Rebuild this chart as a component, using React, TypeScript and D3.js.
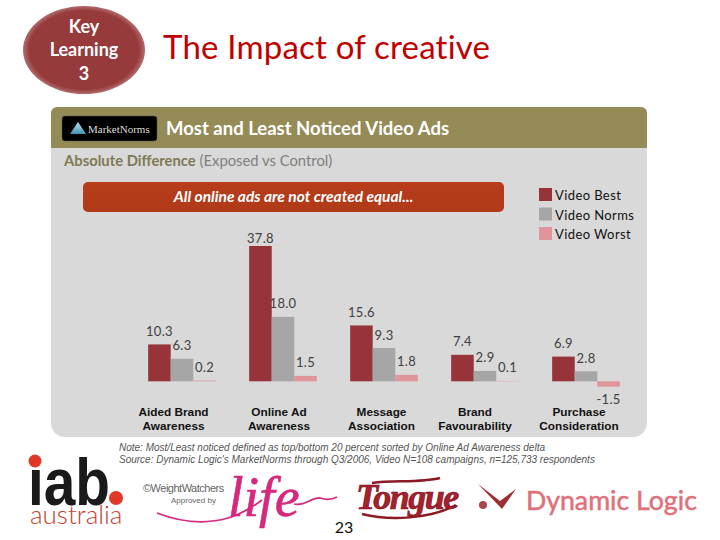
import { useEffect, useRef } from 'react';
import * as d3 from 'd3';

// Chart data
const categories = ['Aided Brand|Awareness', 'Online Ad|Awareness', 'Message|Association', 'Brand|Favourability', 'Purchase|Consideration'];
const seriesNames = ['Video Best', 'Video Norms', 'Video Worst'];
const videoBest = [10.3, 37.8, 15.6, 7.4, 6.9];
const videoNorms = [6.3, 18.0, 9.3, 2.9, 2.8];
const videoWorst = [0.2, 1.5, 1.8, 0.1, -1.5];

const seriesColors = ['#96343a', '#a6a6a6', '#e0959a'];
// category labels on the slide are not centred under their bars
const categoryNudge = [-8.5, -4, -2.5, -10, -7];

const SANS = '"Liberation Sans", Arial, sans-serif';
const HUMAN = 'Lato, "Open Sans", sans-serif';

export default function App() {
    const svgRef = useRef<SVGSVGElement>(null);

    useEffect(() => {
        if (!svgRef.current) return;
        const svg = d3.select(svgRef.current);
        svg.selectAll('.chart').remove();
        const g = svg.append('g').attr('class', 'chart');

        // Scales
        const x0 = d3.scaleBand<number>()
            .domain(d3.range(categories.length))
            .range([131.5, 636.5])
            .paddingInner(0.33)
            .paddingOuter(0.165);
        const x1 = d3.scaleBand<number>()
            .domain(d3.range(seriesNames.length))
            .range([0, x0.bandwidth()]);
        const y = d3.scaleLinear().domain([-5, 40]).range([399.2, 238.1]);

        const series = [videoBest, videoNorms, videoWorst];
        const rows = series.flatMap((values, s) =>
            values.map((v, c) => ({ s, c, v })));

        // Bars
        g.selectAll('.bar')
            .data(rows)
            .enter()
            .append('rect')
            .attr('class', 'bar')
            .attr('x', d => (x0(d.c) || 0) + (x1(d.s) || 0))
            .attr('width', x1.bandwidth())
            .attr('y', d => y(Math.max(d.v, 0)))
            .attr('height', d => Math.abs(y(d.v) - y(0)))
            .attr('fill', d => seriesColors[d.s]);

        // Value labels, the tallest one is kept inside the plot
        g.selectAll('.label')
            .data(rows)
            .enter()
            .append('text')
            .attr('class', 'label')
            .attr('x', d => (x0(d.c) || 0) + (x1(d.s) || 0) + x1.bandwidth() / 2)
            .attr('y', d => d.v < 0 ? y(d.v) + 13 : Math.max(y(d.v) - 13, y(40)))
            .attr('dy', '0.35em')
            .attr('text-anchor', 'middle')
            .attr('fill', '#404040')
            .style('font-family', HUMAN)
            .style('font-size', '13px')
            .style('letter-spacing', '0.3px')
            .text(d => d.v.toFixed(1));

        // Category labels
        const cat = g.selectAll('.cat')
            .data(categories)
            .enter()
            .append('text')
            .attr('class', 'cat')
            .attr('text-anchor', 'middle')
            .attr('fill', '#111')
            .style('font-family', SANS)
            .style('font-size', '11.8px')
            .style('font-weight', 'bold');
        cat.selectAll('tspan')
            .data((d, i) => d.split('|').map(t => ({ t, i })))
            .enter()
            .append('tspan')
            .attr('x', d => (x0(d.i) || 0) + x0.bandwidth() / 2 + categoryNudge[d.i])
            .attr('y', (_d, j) => 416 + j * 14)
            .text(d => d.t);

        // Legend
        const legend = d3.scalePoint<string>().domain(seriesNames).range([194.5, 233.5]);
        g.selectAll('.swatch')
            .data(seriesNames)
            .enter()
            .append('rect')
            .attr('class', 'swatch')
            .attr('x', 539)
            .attr('y', d => (legend(d) || 0) - 6.5)
            .attr('width', 13)
            .attr('height', 13)
            .attr('fill', (_d, i) => seriesColors[i]);
        g.selectAll('.legend-text')
            .data(seriesNames)
            .enter()
            .append('text')
            .attr('class', 'legend-text')
            .attr('x', 555)
            .attr('y', d => (legend(d) || 0) + 1)
            .attr('dy', '0.35em')
            .attr('fill', '#111')
            .style('font-family', HUMAN)
            .style('font-size', '13px')
            .style('letter-spacing', '0.4px')
            .text(d => d);
    }, []);

    return (
        <svg ref={svgRef} width={720} height={540} style={{ position: 'fixed', left: 0, top: 0, background: '#fff' }}>
            <defs>
                <radialGradient id="oval" cx="50%" cy="50%" r="52%">
                    <stop offset="86%" stopColor="#963a3b" />
                    <stop offset="100%" stopColor="#bd8080" />
                </radialGradient>
                <linearGradient id="banner" x1="0" y1="0" x2="0" y2="1">
                    <stop offset="0%" stopColor="#b73c1a" />
                    <stop offset="100%" stopColor="#b03a18" />
                </linearGradient>
                <linearGradient id="mn" x1="0" y1="0" x2="0" y2="1">
                    <stop offset="0%" stopColor="#bfe3ee" />
                    <stop offset="100%" stopColor="#3f93b5" />
                </linearGradient>
            </defs>

            {/* Heading */}
            <ellipse cx={84} cy={50} rx={61} ry={44} fill="url(#oval)" />
            <g fill="#fff" textAnchor="middle" fontFamily={HUMAN} fontSize={18} fontWeight="bold">
                <text x={84} y={33}>Key</text>
                <text x={84} y={56}>Learning</text>
                <text x={84} y={80}>3</text>
            </g>
            <text x={163} y={59} fill="#c00000" fontFamily={HUMAN} fontSize={33} letterSpacing={0.2}>The Impact of creative</text>

            {/* Panel */}
            <path d="M51,113 a6,6 0 0 1 6,-6 H641 a6,6 0 0 1 6,6 V423 a14,14 0 0 1 -14,14 H65 a14,14 0 0 1 -14,-14 Z" fill="#d9d9d9" />
            <path d="M51,148 V113 a6,6 0 0 1 6,-6 H641 a6,6 0 0 1 6,6 V148 Z" fill="#958b56" />
            <rect x={62} y={116} width={95} height={25} rx={3} fill="#000" stroke="#555" strokeWidth={0.5} />
            <path d="M70,134 L78,122 L86,134 Z" fill="url(#mn)" />
            <text x={88} y={133} fill="#ddd" fontFamily='"Liberation Serif", serif' fontSize={11}>MarketNorms</text>
            <text x={166} y={135} fill="#fff" fontFamily={HUMAN} fontSize={18.5} fontWeight="bold">Most and Least Noticed Video Ads</text>
            <text x={64} y={166} fontFamily={HUMAN} fontSize={14.8}>
                <tspan fill="#7f7a55" fontWeight="bold">Absolute Difference</tspan>
                <tspan fill="#7f7f7f"> (Exposed vs Control)</tspan>
            </text>
            <rect x={83} y={182} width={421} height={30} rx={5} fill="url(#banner)" />
            <text x={293.5} y={202} fill="#fff" textAnchor="middle" fontFamily={HUMAN} fontSize={15.5} fontStyle="italic" fontWeight="bold">All online ads are not created equal...</text>

            {/* Footnotes */}
            <g fill="#555" fontFamily={SANS} fontSize={10} fontStyle="italic">
                <text x={119} y={451}>Note: Most/Least noticed defined as top/bottom 20 percent sorted by Online Ad Awareness delta</text>
                <text x={119} y={463}>Source: Dynamic Logic's MarketNorms through Q3/2006, Video N=108 campaigns, n=125,733 respondents</text>
            </g>

            {/* iab australia */}
            <text x={28} y={505} fill="#1a1a1a" fontFamily={SANS} fontSize={66} fontWeight="bold" textLength={82} lengthAdjust="spacingAndGlyphs">iab</text>
            <rect x={27} y={454} width={14} height={11} fill="#fff" />
            <circle cx={35} cy={461} r={6.5} fill="#e03a26" />
            <circle cx={116} cy={498} r={7} fill="#e03a26" />
            <text x={30} y={524} fill="#c23f2e" fontFamily={HUMAN} fontSize={26} fontWeight={300}>australia</text>

            {/* Weight Watchers life */}
            <text x={143} y={492} fill="#666" fontFamily={SANS} fontSize={11} letterSpacing={-0.5}>©WeightWatchers</text>
            <text x={171} y={503} fill="#666" fontFamily={SANS} fontSize={8}>Approved by</text>
            <path d="M157,513 C175,520 200,526 228,518 C245,513 255,505 262,500" fill="none" stroke="#d6287c" strokeWidth={1.8} />
            <text x={228} y={516} fill="#d6287c" stroke="#d6287c" strokeWidth={0.6} fontFamily='"Liberation Serif", serif' fontSize={56} fontStyle="italic">life</text>
            <path d="M294,504 C304,507 312,497 320,498 C326,500 331,500 337,497" fill="none" stroke="#d6287c" strokeWidth={1.8} />

            {/* Tongue */}
            <path d="M362,514 C390,521 430,519 456,505 M372,483 C395,480 420,483 440,478" fill="none" stroke="#8c1a24" strokeWidth={2.5} />
            <text x={356} y={509} fill="#a8202c" stroke="#7a1420" strokeWidth={0.7} fontFamily='"Liberation Serif", serif' fontSize={36} fontWeight="bold" fontStyle="italic" letterSpacing={-1.5}>Tongue</text>

            {/* Dynamic Logic */}
            <path d="M478,484 L500,501 L516,489 L502,509 Z" fill="#9c2f36" />
            <circle cx={483} cy={505} r={4} fill="#a8474c" />
            <text x={526} y={510} fill="#e0707a" stroke="#e0707a" strokeWidth={0.5} fontFamily={HUMAN} fontSize={26.7}>Dynamic Logic</text>

            <text x={344} y={533} fill="#111" textAnchor="middle" fontFamily={HUMAN} fontSize={16}>23</text>
        </svg>
    );
}
